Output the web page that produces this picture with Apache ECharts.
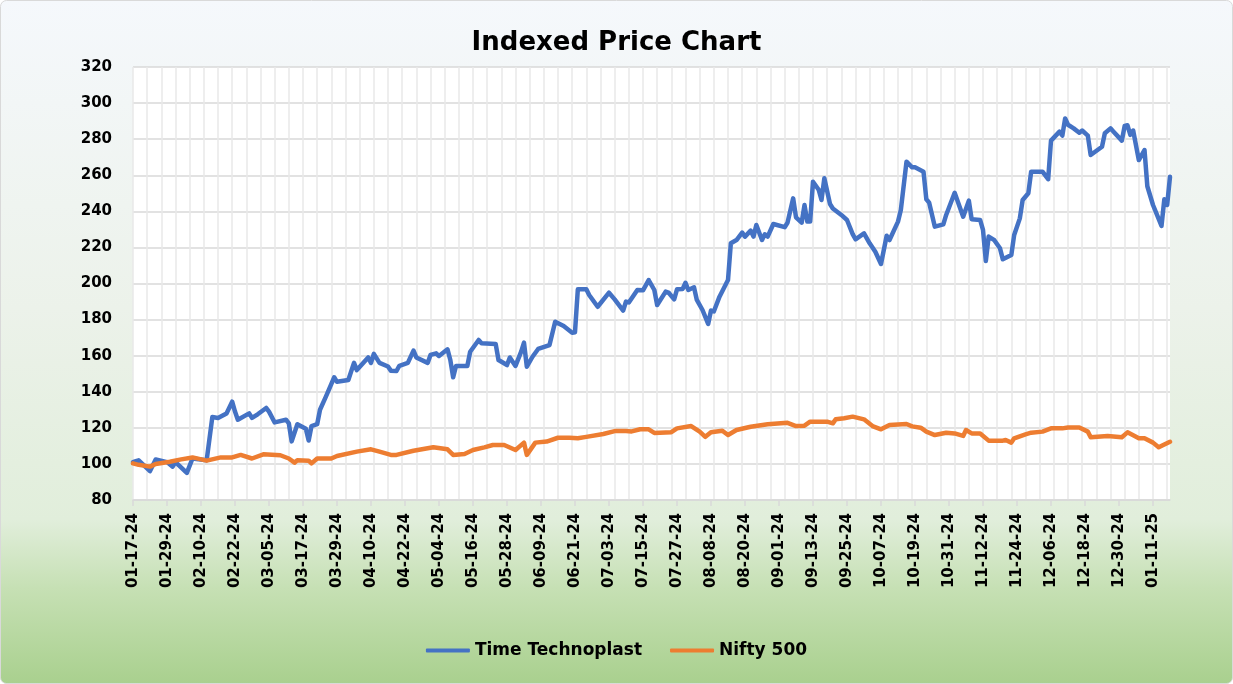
<!DOCTYPE html>
<html>
<head>
<meta charset="utf-8">
<script src="https://cdn.jsdelivr.net/npm/echarts@6/dist/echarts.min.js"></script>
<style>
html,body{margin:0;padding:0;background:#fff;}
#chart{width:1233px;height:684px;}
</style>
</head>
<body>
<div id="chart"></div>
<script>
// ---- data ----
const chartTitle = 'Indexed Price Chart';
const seriesNames = ['Time Technoplast', 'Nifty 500'];
const axisStart = '2024-01-17';
const axisDays = 367;
const yTicks = { min: 80, max: 320, step: 20 };

const ttDates = ['01-17-24','01-18-24','01-19-24','01-23-24','01-25-24','01-29-24','01-31-24','02-01-24','02-05-24','02-07-24','02-12-24','02-14-24','02-16-24','02-19-24','02-21-24','02-22-24','02-23-24','02-27-24','02-28-24','03-01-24','03-04-24','03-05-24','03-07-24','03-11-24','03-12-24','03-13-24','03-15-24','03-18-24','03-19-24','03-20-24','03-22-24','03-23-24','03-25-24','03-28-24','03-29-24','04-02-24','04-04-24','04-05-24','04-09-24','04-10-24','04-11-24','04-13-24','04-16-24','04-17-24','04-19-24','04-20-24','04-23-24','04-25-24','04-26-24','04-30-24','05-01-24','05-03-24','05-04-24','05-07-24','05-08-24','05-09-24','05-10-24','05-14-24','05-15-24','05-18-24','05-19-24','05-24-24','05-25-24','05-28-24','05-29-24','05-31-24','06-02-24','06-03-24','06-04-24','06-06-24','06-08-24','06-12-24','06-14-24','06-17-24','06-20-24','06-21-24','06-22-24','06-25-24','06-26-24','06-29-24','07-03-24','07-05-24','07-08-24','07-09-24','07-10-24','07-13-24','07-15-24','07-17-24','07-19-24','07-20-24','07-23-24','07-24-24','07-26-24','07-27-24','07-29-24','07-30-24','07-31-24','08-02-24','08-03-24','08-05-24','08-07-24','08-08-24','08-09-24','08-11-24','08-14-24','08-15-24','08-17-24','08-19-24','08-20-24','08-22-24','08-23-24','08-24-24','08-26-24','08-27-24','08-28-24','08-30-24','09-03-24','09-04-24','09-06-24','09-07-24','09-09-24','09-10-24','09-11-24','09-12-24','09-13-24','09-15-24','09-16-24','09-17-24','09-19-24','09-20-24','09-23-24','09-25-24','09-27-24','09-28-24','10-01-24','10-03-24','10-05-24','10-07-24','10-09-24','10-10-24','10-13-24','10-14-24','10-16-24','10-18-24','10-19-24','10-22-24','10-23-24','10-24-24','10-26-24','10-29-24','10-30-24','11-02-24','11-05-24','11-07-24','11-08-24','11-11-24','11-12-24','11-13-24','11-14-24','11-16-24','11-18-24','11-19-24','11-22-24','11-23-24','11-25-24','11-26-24','11-28-24','11-29-24','12-03-24','12-05-24','12-06-24','12-09-24','12-10-24','12-11-24','12-12-24','12-14-24','12-16-24','12-17-24','12-19-24','12-20-24','12-24-24','12-25-24','12-27-24','12-28-24','12-31-24','01-01-25','01-02-25','01-03-25','01-04-25','01-06-25','01-08-25','01-09-25','01-11-25','01-14-25','01-15-25','01-16-25','01-17-25'];
const ttValues = [101,101.5,102,96,102.5,101,98.5,101,95,103,102,126,125.5,128,134.5,129,124.5,128,125.5,127.5,131,129,123,124.5,122.5,112.5,122,119.5,113,121,122,130,137,148,145.5,146.5,156,152,159,156,161,156,154,151.7,151.5,154.4,156,162.8,159,156,160.4,161.3,159.8,163.5,157.6,148,154.3,154.3,162.2,168.7,166.9,166.5,157.6,154.8,159,154.3,162.2,167.2,153.9,159.4,163.7,165.9,178.8,176.4,172.7,173,196.8,196.8,193.6,187.1,194.9,191.2,185,190,189.5,196.4,196.2,201.9,196.4,188.1,195.5,195,191.2,196.8,197,200.4,196.4,197.9,190.9,185.3,177.6,185,184.5,192.7,201.9,222.3,224.1,228.2,226,229.3,226,232.4,224.1,227.3,226,233,231.2,233.7,247.2,236.7,233.7,243.5,234.3,234.3,256.4,252,246.3,258.3,244.1,241.6,238,235.2,227.4,224.5,227.8,222.3,217.6,210.8,226.5,224.1,234.3,240.7,267.5,264.4,264.4,262,246.7,244.8,231.5,232.8,238,250.3,237,245.9,235.6,235.2,229.7,212.5,226,224,219.5,213.4,215.8,226.9,236.1,246.3,250,262,262,257.8,279.2,284.2,282,291.5,288,286,283.6,284.8,282,271.2,275.8,283.3,286,284.3,279.2,287.3,287.7,282.4,284.8,268.4,274,253.9,243.5,231.9,246.7,243.5,259.2];

const niftyDates = ['01-17-24','01-19-24','01-23-24','01-25-24','01-30-24','02-03-24','02-07-24','02-12-24','02-17-24','02-21-24','02-24-24','02-28-24','03-03-24','03-09-24','03-12-24','03-14-24','03-15-24','03-19-24','03-20-24','03-22-24','03-27-24','03-29-24','04-05-24','04-10-24','04-13-24','04-17-24','04-19-24','04-25-24','05-02-24','05-07-24','05-09-24','05-13-24','05-16-24','05-20-24','05-23-24','05-27-24','05-31-24','06-03-24','06-04-24','06-07-24','06-11-24','06-15-24','06-19-24','06-22-24','06-25-24','07-01-24','07-05-24','07-09-24','07-11-24','07-14-24','07-17-24','07-19-24','07-25-24','07-27-24','08-01-24','08-04-24','08-06-24','08-08-24','08-12-24','08-14-24','08-17-24','08-22-24','08-28-24','09-04-24','09-07-24','09-10-24','09-12-24','09-18-24','09-20-24','09-21-24','09-24-24','09-27-24','10-01-24','10-04-24','10-07-24','10-10-24','10-16-24','10-18-24','10-21-24','10-23-24','10-26-24','10-30-24','11-02-24','11-05-24','11-06-24','11-08-24','11-11-24','11-14-24','11-19-24','11-20-24','11-22-24','11-23-24','11-27-24','11-29-24','12-03-24','12-06-24','12-10-24','12-12-24','12-16-24','12-19-24','12-20-24','12-26-24','12-29-24','12-31-24','01-02-25','01-06-25','01-08-25','01-11-25','01-13-25','01-17-25'];
const niftyValues = [100.3,99.5,98.5,100,101.2,102.5,103.6,101.8,103.6,103.6,105,103,105.3,104.8,103,100.7,102,101.8,100.3,103,103,104.4,106.8,108.1,106.8,105,105,107.3,109.2,108.1,105,105.5,107.7,109.2,110.5,110.5,107.7,111.8,105,111.8,112.4,114.5,114.5,114.2,115,116.6,118.2,118.2,118,119.2,119.2,117.2,117.6,119.7,121,117.9,115,117.6,118.4,116,118.8,120.6,122,122.8,121,121.2,123.4,123.4,122.5,124.7,125.3,126.2,124.7,121,119.2,121.6,122.1,120.8,120.1,117.9,116,117.3,116.9,115.5,118.8,116.9,116.9,112.9,112.9,113.3,111.8,114.2,116.4,117.3,117.9,119.7,119.7,120.2,120.2,117.9,114.8,115.5,115.1,114.8,117.5,114.2,114.2,111.8,109.2,112.3];

// ---- build calendar categories ----
function fmt(d){
  const mm = String(d.getUTCMonth()+1).padStart(2,'0');
  const dd = String(d.getUTCDate()).padStart(2,'0');
  const yy = String(d.getUTCFullYear()).slice(2);
  return mm + '-' + dd + '-' + yy;
}
const categories = [];
const t0 = Date.parse(axisStart + 'T00:00:00Z');
for (let i = 0; i < axisDays; i++) categories.push(fmt(new Date(t0 + i*86400000)));

const ttData = ttDates.map((d,i)=>[d, ttValues[i]]);
const niftyData = niftyDates.map((d,i)=>[d, niftyValues[i]]);

const FONT = '"DejaVu Sans", sans-serif';
const chart = echarts.init(document.getElementById('chart'), null, {renderer:'canvas'});
chart.setOption({
  animation: false,
  backgroundColor: '#ffffff',
  graphic: [{
    type: 'rect', z: -100, silent: true,
    shape: { x: 0.5, y: 0.5, width: 1232, height: 683, r: 6 },
    style: {
      fill: new echarts.graphic.LinearGradient(0,0,0,1,[
        {offset:0, color:'#f5f8fc'},
        {offset:0.45, color:'#ecf2ea'},
        {offset:0.76, color:'#e1eedb'},
        {offset:0.86, color:'#c6e0b4'},
        {offset:1, color:'#a9d08e'}
      ]),
      stroke: '#d9d9d9', lineWidth: 1
    }
  }],
  title: {
    text: chartTitle, left: 'center', top: 25,
    textStyle: { fontFamily: FONT, fontWeight: 'bold', fontSize: 26, color: '#000' }
  },
  legend: {
    bottom: 20, left: 'center',
    itemWidth: 44, itemHeight: 4, itemGap: 28,
    icon: 'roundRect',
    textStyle: { fontFamily: FONT, fontWeight: 'bold', fontSize: 17, color: '#000' },
    data: seriesNames
  },
  grid: { left: 133, right: 63, top: 67, bottom: 184, show: true, backgroundColor: '#ffffff', borderWidth: 0 },
  xAxis: {
    type: 'category', data: categories, boundaryGap: false,
    axisLine: { lineStyle: { color: '#d9d9d9', width: 1.5 } },
    axisTick: { show: true, interval: 11, length: 6, lineStyle: { color: '#d9d9d9', width: 1.5 } },
    axisLabel: { interval: 11, rotate: 90, margin: 13, fontFamily: FONT, fontWeight: 'bold', fontSize: 15, color: '#000' },
    splitLine: { show: true, interval: 4, lineStyle: { color: '#e8e8e8', width: 1.5 } }
  },
  yAxis: {
    type: 'value', min: yTicks.min, max: yTicks.max, interval: yTicks.step,
    axisLine: { show: false }, axisTick: { show: false },
    axisLabel: { margin: 21, fontFamily: FONT, fontWeight: 'bold', fontSize: 15, color: '#000' },
    splitLine: { lineStyle: { color: '#d9d9d9', width: 1.5 } }
  },
  series: [
    { name: seriesNames[0], type: 'line', data: ttData, showSymbol: false, symbol: 'none',
      itemStyle: { color: '#4472c4' },
      lineStyle: { color: '#4472c4', width: 4.5, join: 'round', cap: 'round' } },
    { name: seriesNames[1], type: 'line', data: niftyData, showSymbol: false, symbol: 'none',
      itemStyle: { color: '#ed7d31' },
      lineStyle: { color: '#ed7d31', width: 4.5, join: 'round', cap: 'round' } }
  ]
});
</script>
</body>
</html>
